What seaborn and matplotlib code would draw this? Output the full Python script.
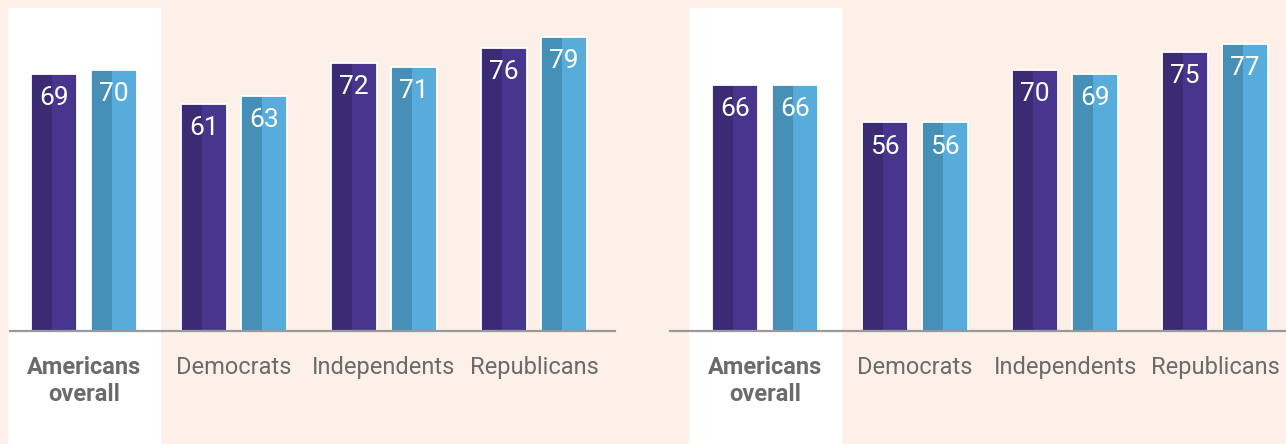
import matplotlib
matplotlib.use("Agg")
import matplotlib.pyplot as plt
from matplotlib.patches import Rectangle
import seaborn as sns
import pandas as pd

categories = ["Americans\noverall", "Democrats", "Independents", "Republicans"]
series_names = ["A", "B"]
left_a = [69, 61, 72, 76]
left_b = [70, 63, 71, 79]
right_a = [66, 56, 70, 75]
right_b = [66, 56, 69, 77]

BG = "#fdf0e8"
light = {"A": "#48358e", "B": "#57acdb"}
dark = {"A": "#3b2a74", "B": "#4690b8"}
TXT = "#6b6b6b"

sns.set_theme(style="white")
plt.rcParams["font.family"] = ["Roboto", "DejaVu Sans"]

W, H = 1286, 444
fig = plt.figure(figsize=(W / 100, H / 100), dpi=100, facecolor=BG)

PX_PER_UNIT_Y = 3.725
PX_PER_GROUP = 150.0
base_y = 331
top_y = 8


def make_df(a, b):
    rows = []
    for c, va, vb in zip(categories, a, b):
        rows.append({"cat": c, "series": "A", "value": va})
        rows.append({"cat": c, "series": "B", "value": vb})
    return pd.DataFrame(rows)


def panel(x0, x1, center0, spine_lo, spine_hi, a, b):
    ax = fig.add_axes([x0 / W, 0, (x1 - x0) / W, (H - top_y) / H])
    ax.set_facecolor("none")
    df = make_df(a, b)
    sns.barplot(data=df, x="cat", y="value", hue="series", order=categories,
                hue_order=series_names, palette=light, saturation=1, width=0.8,
                gap=0.233, linewidth=0, legend=False, ax=ax, zorder=2)
    ax.set_xlim((x0 - center0) / PX_PER_GROUP, (x1 - center0) / PX_PER_GROUP)
    ax.set_ylim(-(H - base_y) / PX_PER_UNIT_Y, (base_y - top_y) / PX_PER_UNIT_Y)
    ax.axvspan(-0.51, 0.51, color="white", zorder=0, lw=0)

    for cont, s in zip(ax.containers, series_names):
        for p in cont:
            x, w, h = p.get_x(), p.get_width(), p.get_height()
            ax.add_patch(Rectangle((x, 0), w * 0.45, h, facecolor=dark[s], lw=0, zorder=2.1))
            ax.add_patch(Rectangle((x, 0), w, h, fill=False, edgecolor="white", lw=1.3, zorder=2.2))
        ax.bar_label(cont, fmt="%d", padding=-26, color="white", fontsize=19, zorder=3)

    for sp in ["top", "right", "left"]:
        ax.spines[sp].set_visible(False)
    ax.spines["bottom"].set_position(("data", 0))
    ax.spines["bottom"].set_bounds(spine_lo, spine_hi)
    ax.spines["bottom"].set_color("#999999")
    ax.spines["bottom"].set_linewidth(1.6)
    ax.spines["bottom"].set_zorder(4)
    ax.set_yticks([])
    ax.set_xlabel("")
    ax.set_ylabel("")
    ax.tick_params(axis="x", length=0, pad=18, labelsize=17, labelcolor=TXT)
    ax.get_xticklabels()[0].set_fontweight("bold")
    return ax


panel(0, 640, 84, (10 - 84) / PX_PER_GROUP, (615 - 84) / PX_PER_GROUP, left_a, left_b)
panel(640, 1286, 765, (670 - 765) / PX_PER_GROUP, (1286 - 765) / PX_PER_GROUP, right_a, right_b)

fig.savefig("out.png", dpi=100, facecolor=BG)
